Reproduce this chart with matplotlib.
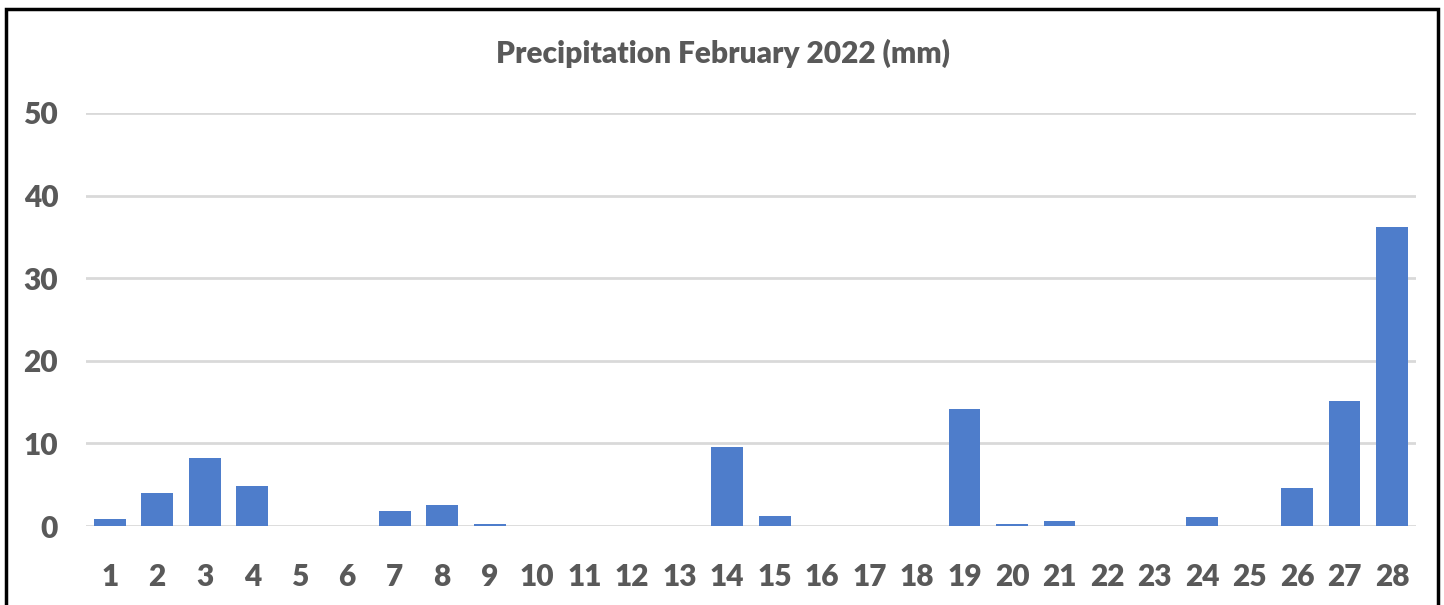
import matplotlib.pyplot as plt
from matplotlib.patches import Rectangle

# Precipitação diária - fevereiro 2022
dias = [str(d) for d in range(1, 29)]
precip = [0.9, 4.0, 8.2, 4.8, 0.0, 0.0, 1.85, 2.6, 0.3, 0.0,
          0.0, 0.0, 0.0, 9.55, 1.2, 0.0, 0.0, 0.0, 14.2, 0.25,
          0.55, 0.0, 0.0, 1.05, 0.0, 4.6, 15.1, 36.2]
yticks = [0, 10, 20, 30, 40, 50]

cinza = '#595959'
plt.rcParams['font.family'] = ['Lato', 'DejaVu Sans']

fig = plt.figure(figsize=(14.44, 6.05), dpi=100)
ax = fig.add_axes([86 / 1444, 79 / 605, (1415.7 - 86) / 1444, 413 / 605])

x = range(len(dias))
ax.bar(x, precip, width=0.67, color='#4E7DCB', zorder=3)

ax.set_xlim(-0.5, len(dias) - 0.5)
ax.set_ylim(0, 50)
ax.set_yticks(yticks)
ax.set_xticks(list(x))
ax.set_xticklabels(dias)
ax.grid(axis='y', color='#D9D9D9', linewidth=2, zorder=0)
for s in ax.spines.values():
    s.set_visible(False)
ax.tick_params(axis='both', length=0, labelsize=21.5, labelcolor=cinza)
ax.tick_params(axis='y', pad=20)
ax.tick_params(axis='x', pad=27)
for lbl in ax.get_xticklabels() + ax.get_yticklabels():
    lbl.set_fontweight('heavy')

fig.text(723 / 1444, 1 - 53 / 605, 'Precipitation February 2022 (mm)',
         ha='center', va='center', fontsize=21.5, fontweight='heavy', color=cinza)

# moldura preta (base cortada na imagem original)
fig.patches.append(Rectangle((6 / 1444, -0.05), 1432 / 1444, 1.05 - 9 / 605,
                             transform=fig.transFigure, fill=False,
                             edgecolor='black', linewidth=2.5))

fig.savefig('out.png', dpi=100)
